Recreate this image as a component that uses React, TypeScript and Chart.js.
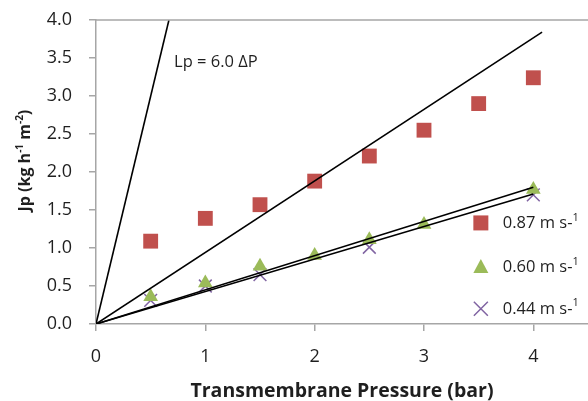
import React, { useEffect, useRef } from "react";
import { Chart, registerables } from "chart.js";

Chart.register(...registerables);

const pressure87 = [0.5, 1, 1.5, 2, 2.5, 3, 3.5, 4];
const flux87 = [1.09, 1.39, 1.57, 1.88, 2.21, 2.55, 2.9, 3.24];
const pressure60 = [0.5, 1, 1.5, 2, 2.5, 3, 4];
const flux60 = [0.36, 0.54, 0.76, 0.9, 1.11, 1.31, 1.77];
const pressure44 = [0.5, 1, 1.5, 2.5, 4];
const flux44 = [0.31, 0.5, 0.65, 1.01, 1.7];

const steepLineX = [0, 0.667];
const steepLineY = [0, 4];
const line87X = [0, 4.08];
const line87Y = [0, 3.84];
const line60X = [0, 4];
const line60Y = [0, 1.8];
const line44X = [0, 4];
const line44Y = [0, 1.71];

const xTickValues = [0, 1, 2, 3, 4];
const seriesNames = ["0.87 m s-", "0.60 m s-", "0.44 m s-"];
const seriesSup = "1";
const annotationText = "Lp = 6.0 \u0394P";
const xTitle = "Transmembrane Pressure (bar)";
const yTitleParts = [
  { t: "Jp (kg h", sup: false },
  { t: "-1", sup: true },
  { t: " m", sup: false },
  { t: "-2", sup: true },
  { t: ")", sup: false },
];

const FONT = "'Open Sans', 'DejaVu Sans', sans-serif";
const TEXT = "#1f1f1f";
const AXIS = "#a6a6a6";
const RED = "#C0504D";
const GREEN = "#9BBB59";
const PURPLE = "#8064A2";

const pts = (xs: number[], ys: number[]) => xs.map((x, i) => ({ x, y: ys[i] }));

type Part = { t: string; sup: boolean };

function drawRich(ctx: any, parts: Part[], x: number, y: number, size: number, weight: string, align: "left" | "center") {
  const big = `${weight} ${size}px ${FONT}`;
  const small = `${weight} ${Math.round(size * 0.65)}px ${FONT}`;
  let total = 0;
  parts.forEach((p) => {
    ctx.font = p.sup ? small : big;
    total += ctx.measureText(p.t).width;
  });
  let cx = align === "center" ? x - total / 2 : x;
  ctx.textAlign = "left";
  ctx.textBaseline = "middle";
  parts.forEach((p) => {
    ctx.font = p.sup ? small : big;
    ctx.fillText(p.t, cx, p.sup ? y - size * 0.33 : y);
    cx += ctx.measureText(p.t).width;
  });
}

const extrasPlugin = {
  id: "extras",
  afterDraw(chart: any) {
    const { ctx, chartArea } = chart;
    const xs = chart.scales.x;
    const ys = chart.scales.y;
    ctx.save();
    ctx.strokeStyle = AXIS;
    ctx.lineWidth = 1.5;
    ctx.beginPath();
    ctx.moveTo(chartArea.left, chartArea.top);
    ctx.lineTo(chartArea.right, chartArea.top);
    ctx.stroke();
    ctx.fillStyle = TEXT;
    ctx.font = `16.5px ${FONT}`;
    ctx.textBaseline = "middle";
    ctx.textAlign = "left";
    ctx.fillText(annotationText, xs.getPixelForValue(0.714), ys.getPixelForValue(3.45));
    ctx.save();
    ctx.translate(25, ys.getPixelForValue(2.15));
    ctx.rotate(-Math.PI / 2);
    drawRich(ctx, yTitleParts, 0, 0, 16, "bold", "center");
    ctx.restore();
    const lx = xs.getPixelForValue(3.52);
    const tx = lx + 22;
    const rows = [ys.getPixelForValue(1.33), ys.getPixelForValue(0.75), ys.getPixelForValue(0.2)];
    ctx.fillStyle = RED;
    ctx.fillRect(lx - 7.5, rows[0] - 7.5, 15, 15);
    ctx.fillStyle = GREEN;
    ctx.beginPath();
    ctx.moveTo(lx, rows[1] - 8);
    ctx.lineTo(lx + 7.5, rows[1] + 6);
    ctx.lineTo(lx - 7.5, rows[1] + 6);
    ctx.closePath();
    ctx.fill();
    ctx.strokeStyle = PURPLE;
    ctx.lineWidth = 1.5;
    ctx.beginPath();
    ctx.moveTo(lx - 7, rows[2] - 7);
    ctx.lineTo(lx + 7, rows[2] + 7);
    ctx.moveTo(lx + 7, rows[2] - 7);
    ctx.lineTo(lx - 7, rows[2] + 7);
    ctx.stroke();
    ctx.fillStyle = TEXT;
    seriesNames.forEach((t, i) =>
      drawRich(ctx, [{ t, sup: false }, { t: seriesSup, sup: true }], tx, rows[i], 16.5, "normal", "left")
    );
    ctx.restore();
  },
};

export default function App() {
  const ref = useRef<HTMLCanvasElement | null>(null);
  useEffect(() => {
    document.body.style.margin = "0";
    const lineDs = (xs: number[], ys: number[]) => ({
      type: "line" as const,
      data: pts(xs, ys),
      borderColor: "#000",
      borderWidth: 1.6,
      pointRadius: 0,
      showLine: true,
      fill: false,
    });
    const chart = new Chart(ref.current as HTMLCanvasElement, {
      type: "scatter",
      data: {
        datasets: [
          lineDs(steepLineX, steepLineY),
          lineDs(line87X, line87Y),
          lineDs(line60X, line60Y),
          lineDs(line44X, line44Y),
          {
            label: "0.87",
            data: pts(pressure87, flux87),
            pointStyle: "rect",
            pointRadius: 10.5,
            backgroundColor: RED,
            borderColor: RED,
            borderWidth: 0,
          },
          {
            label: "0.60",
            data: pts(pressure60, flux60),
            pointStyle: "triangle",
            pointRadius: 8.5,
            backgroundColor: GREEN,
            borderColor: GREEN,
            borderWidth: 0,
          },
          {
            label: "0.44",
            data: pts(pressure44, flux44),
            pointStyle: "crossRot",
            pointRadius: 9,
            backgroundColor: PURPLE,
            borderColor: PURPLE,
            borderWidth: 1.5,
          },
        ],
      } as any,
      options: {
        animation: false,
        responsive: false,
        layout: { autoPadding: false, padding: { top: 20, right: 0, left: 0, bottom: 0 } },
        plugins: { legend: { display: false }, tooltip: { enabled: false } },
        scales: {
          x: {
            type: "linear",
            min: 0,
            max: 4.5,
            afterBuildTicks: (s: any) => {
              s.ticks = xTickValues.map((v) => ({ value: v }));
            },
            afterFit: (s: any) => {
              s.height = 77;
              s.paddingLeft = 0;
              s.paddingRight = 0;
            },
            ticks: {
              stepSize: 1,
              color: TEXT,
              font: { family: FONT, size: 18 },
              padding: 15,
            },
            grid: { drawOnChartArea: false, tickLength: 7, color: AXIS, lineWidth: 1.5 },
            border: { color: AXIS, width: 1.5 },
            title: {
              display: true,
              text: xTitle,
              color: TEXT,
              font: { family: FONT, size: 19.5, weight: "bold", lineHeight: 1 },
              padding: { top: 6, bottom: 0 },
            },
          },
          y: {
            type: "linear",
            min: 0,
            max: 4,
            afterFit: (s: any) => {
              s.width = 96;
              s.paddingTop = 0;
              s.paddingBottom = 0;
            },
            ticks: {
              stepSize: 0.5,
              color: TEXT,
              font: { family: FONT, size: 18 },
              padding: 17,
              callback: (v: any) => Number(v).toFixed(1),
            },
            grid: { drawOnChartArea: false, tickLength: 7, color: AXIS, lineWidth: 1.5 },
            border: { color: AXIS, width: 1.5 },
          },
        },
      },
      plugins: [extrasPlugin],
    });
    return () => chart.destroy();
  }, []);
  return (
    <div style={{ width: 588, height: 401, background: "#fff" }}>
      <canvas ref={ref} width={588} height={401} style={{ width: 588, height: 401 }} />
    </div>
  );
}
